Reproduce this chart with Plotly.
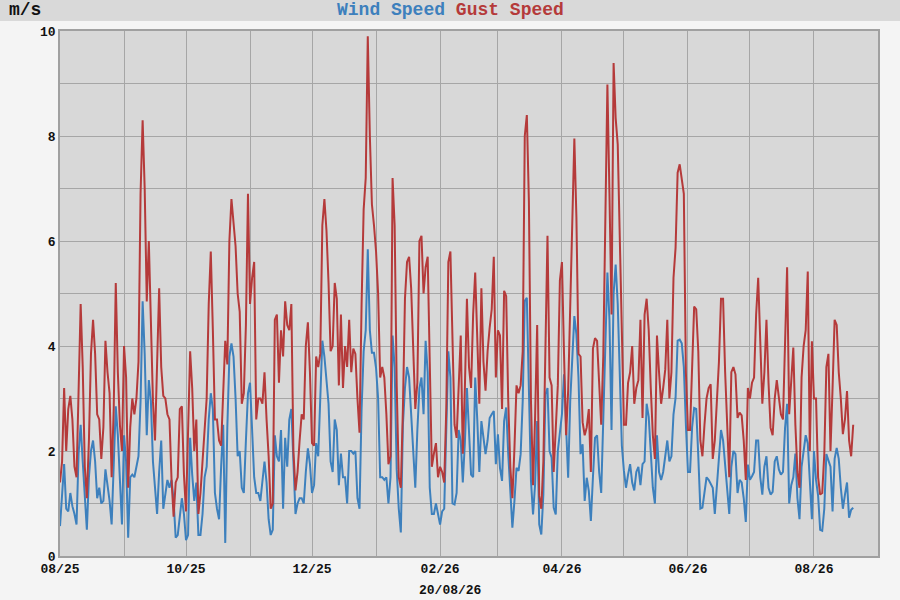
import pandas as pd
import plotly.graph_objects as go

# daily readings starting 2025-08-01, last one 2026-08-20
start_date = "2025-08-01"

wind_speed = [
    # Aug - early Oct 2025
    0.57, 1.2, 1.75, 0.9, 0.85, 1.2, 0.95, 0.8, 0.6, 1.95,
    2.5, 1.8, 1.05, 0.5, 1.5, 2.0, 2.2, 1.8, 1.1, 1.3,
    1.0, 1.05, 1.65, 1.35, 1.05, 0.6, 1.8, 2.85, 2.3, 1.35,
    0.6, 2.3, 1.8, 0.35, 1.5, 1.55, 1.5, 1.7, 1.9, 2.95,
    4.85, 3.85, 2.3, 3.35, 2.95, 1.8, 1.2, 0.8, 1.6, 2.2,
    0.9, 1.2, 1.45, 1.3, 1.45, 1.05, 0.35, 0.4, 0.75, 1.1,
    0.8, 0.3, 0.4, 2.25, 1.55, 1.05,
    # Oct - Dec 2025
    1.4, 0.4, 0.4, 0.8, 1.5, 1.7, 2.6, 3.1, 2.8, 1.2,
    0.9, 0.7, 1.7, 2.5, 0.25, 2.45, 3.8, 4.05, 3.8, 3.0,
    1.9, 2.0, 1.3, 1.2, 2.2, 3.1, 3.3, 2.5, 1.5, 1.2,
    1.2, 1.05, 1.4, 1.8, 1.4, 0.7, 0.4, 0.5, 2.3, 1.9,
    1.8, 2.4, 0.9, 2.25, 1.7, 2.6, 2.8, 1.7, 0.8, 1.0,
    1.1, 1.1, 1.0, 1.6, 2.05, 1.75, 1.2, 1.35, 2.15, 1.9,
    2.95, 4.1, 3.8, 3.4, 2.9, 1.8, 1.6, 2.6, 2.4,
    # Dec 2025 - Feb 2026
    1.35, 1.95, 1.5, 1.5, 1.0, 2.0, 2.0, 1.95, 2.0, 1.1,
    0.9, 2.8, 3.9, 4.3, 5.84, 4.3, 3.87, 3.87, 3.58, 3.0,
    1.5, 1.5, 1.45, 1.5, 1.0, 1.5, 4.2, 3.6, 1.65, 0.9,
    0.45, 2.5, 3.2, 3.6, 3.4, 2.75, 2.0, 1.3, 2.4, 3.2,
    3.4, 2.7, 4.1, 3.5, 1.3, 0.8, 0.8, 1.0, 0.8, 0.6,
    0.85, 0.9, 2.4, 3.9, 3.4, 1.0, 0.98, 1.2, 2.4, 2.2,
    1.4, 2.16, 3.2, 2.3, 1.55, 1.5, 3.4, 2.6, 1.6,
    # Feb - Apr 2026
    2.57, 2.2, 1.94, 2.2, 2.63, 2.7, 2.76, 1.75, 2.32, 1.68,
    1.43, 2.57, 2.83, 1.94, 1.17, 0.54, 1.05, 1.68, 1.62, 1.94,
    2.95, 4.86, 4.92, 2.95, 1.43, 0.79, 1.37, 2.57, 0.6, 0.41,
    1.17, 3.08, 3.2, 2.0, 1.87, 0.92, 0.79, 2.0, 2.32, 2.7,
    3.46, 2.32, 1.49, 2.95, 3.71, 4.57, 4.22, 3.4, 1.94, 2.13,
    1.05, 1.49, 1.24, 0.67, 1.5,
    # Apr - Jun 2026
    2.25, 2.3, 1.6, 1.2, 2.5, 3.8, 5.4, 4.5, 2.4, 5.0,
    5.55, 4.8, 3.6, 2.1, 1.62, 1.3, 1.55, 1.75, 1.4, 1.25,
    1.6, 1.7, 1.35, 1.75, 1.8, 2.9, 2.65, 1.95, 1.3, 1.0,
    2.3, 1.6, 1.45, 1.6, 1.9, 2.2, 1.8, 1.9, 2.7, 3.01,
    4.1, 4.12, 4.05, 3.6, 2.5, 1.6, 1.6, 2.45, 2.82, 2.8,
    1.9, 0.9, 0.92, 1.2, 1.5, 1.45, 1.36, 1.3, 0.8, 1.3,
    1.8, 2.4, 2.2, 1.7, 1.36, 0.8, 1.7, 2.0,
    # Jun - Aug 2026
    1.94, 1.2, 1.45, 1.4, 1.1, 0.65, 1.74, 1.45, 1.52, 1.6,
    2.2, 2.2, 1.5, 1.17, 1.7, 1.9, 1.3, 1.17, 1.22, 1.8,
    1.9, 1.65, 1.55, 1.6, 2.44, 2.9, 1.0, 1.35, 1.5, 1.95,
    1.1, 0.7, 1.7, 2.0, 2.3, 2.15, 1.3, 0.7, 2.0, 1.45,
    1.15, 0.5, 0.48, 0.9, 1.94, 1.8, 1.7, 0.85, 1.85, 2.06,
    1.85, 1.3, 0.9, 1.17, 1.4, 0.73, 0.88, 0.92,
]

gust_speed = [
    # Aug - early Oct 2025
    1.4, 1.8, 3.2, 2.0, 2.8, 3.05, 2.6, 1.7, 1.5, 3.0,
    4.8, 3.6, 1.7, 1.1, 2.2, 3.85, 4.5, 3.85, 2.7, 2.6,
    1.85, 2.45, 4.1, 3.5, 3.1, 1.5, 2.8, 5.2, 3.5, 2.5,
    2.0, 4.0, 3.4, 1.3, 2.45, 3.0, 2.7, 3.0, 3.7, 6.9,
    8.3, 7.0, 4.85, 6.0, 4.35, 2.95, 2.2, 3.6, 5.1, 3.6,
    3.05, 3.0, 2.7, 2.6, 1.45, 0.75, 1.4, 1.5, 2.8, 2.85,
    1.55, 0.85, 2.3, 3.9, 3.2, 2.0,
    # Oct - Dec 2025
    2.6, 0.8, 1.2, 1.8, 2.4, 3.0, 4.8, 5.8, 4.3, 2.6,
    2.6, 2.2, 2.1, 3.3, 4.1, 3.65, 6.0, 6.8, 6.4, 5.9,
    5.0, 4.65, 2.9, 3.1, 4.4, 6.9, 4.8, 5.3, 5.6, 2.6,
    3.0, 3.0, 2.9, 3.5, 2.6, 1.9, 0.9, 1.0, 4.5, 4.6,
    3.3, 4.3, 3.8, 4.85, 4.4, 4.3, 4.8, 2.0, 1.25, 1.6,
    2.2, 2.7, 2.6, 4.0, 4.45, 3.5, 2.15, 2.1, 3.8, 3.6,
    3.85, 6.3, 6.8, 6.2, 5.2, 3.9, 4.0, 5.2, 4.9,
    # Dec 2025 - Feb 2026
    3.25, 4.6, 3.2, 4.0, 3.6, 4.5, 3.5, 3.95, 3.85, 3.0,
    2.35, 4.8, 6.6, 7.2, 9.9, 8.0, 6.7, 6.3, 5.8, 5.0,
    3.4, 3.6, 3.4, 2.7, 1.75, 1.9, 7.2, 6.3, 3.25, 1.5,
    1.3, 2.8, 4.9, 5.6, 5.7, 5.1, 4.0, 2.8, 3.3, 6.0,
    6.1, 5.0, 5.5, 5.7, 3.7, 1.7, 1.95, 2.15, 1.5, 1.7,
    1.6, 1.4, 2.8, 5.6, 5.8, 3.9, 2.5, 2.25, 3.2, 4.2,
    1.95, 3.2, 4.9, 3.6, 3.2, 4.6, 5.4, 4.0, 2.9,
    # Feb - Apr 2026
    5.1, 3.7, 3.15, 3.9, 4.35, 4.7, 5.7, 3.4, 4.3, 4.2,
    2.8, 5.05, 4.95, 2.95, 1.7, 1.1, 2.05, 3.25, 3.1, 3.25,
    3.9, 8.0, 8.4, 6.75, 2.95, 1.35, 2.65, 4.4, 1.15, 0.9,
    1.8, 4.2, 6.1, 3.4, 3.25, 1.6, 2.3, 3.25, 5.25, 5.6,
    3.85, 2.3, 3.15, 4.85, 6.55, 7.95, 6.45, 3.85, 3.8, 2.55,
    2.3, 2.45, 2.8, 1.6, 3.95,
    # Apr - Jun 2026
    4.15, 4.1, 3.2, 2.5, 3.8, 6.8, 8.98, 6.9, 4.6, 9.39,
    8.34, 7.84, 6.0, 3.9, 2.5, 2.5, 3.3, 3.5, 4.0, 2.9,
    3.2, 3.35, 4.5, 2.63, 4.6, 4.9, 4.3, 3.2, 2.3, 1.85,
    4.2, 3.5, 2.9, 3.2, 3.55, 4.5, 3.0, 3.5, 5.3, 5.87,
    7.3, 7.46, 7.2, 6.9, 3.5, 2.4, 2.4, 3.6, 4.75, 4.7,
    3.9, 2.2, 1.9, 2.5, 3.0, 3.2, 3.27, 1.85, 2.2, 2.95,
    3.7, 4.9, 4.9, 3.5, 2.32, 1.5, 3.5, 3.6,
    # Jun - Aug 2026
    3.46, 2.63, 2.73, 2.68, 2.2, 1.45, 3.2, 3.0, 3.3, 3.4,
    4.6, 5.3, 4.09, 2.9, 3.5, 4.5, 3.3, 2.44, 2.3, 3.0,
    3.35, 3.0, 2.7, 2.6, 4.2, 5.5, 2.7, 3.46, 3.97, 2.5,
    1.6, 1.3, 3.4, 4.0, 4.3, 5.42, 2.0, 4.09, 3.0, 3.0,
    1.5, 1.17, 1.2, 1.94, 3.6, 3.85, 2.0, 3.2, 4.5, 4.4,
    3.5, 3.0, 2.32, 2.6, 3.14, 2.2, 1.9, 2.5,
]

x_range = ["2025-08-01", "2026-09-01"]
y_range = [0, 10]
unit_label = "m/s"
date_label = "20/08/26"

WIND_COLOR = "#3d80bd"
GUST_COLOR = "#b53a3a"
FONT = "Liberation Mono, Courier New, monospace"
GRID = "#a6a6a6"

wind_dates = pd.date_range(start_date, periods=len(wind_speed), freq="D")
gust_dates = pd.date_range(start_date, periods=len(gust_speed), freq="D")

fig = go.Figure()
fig.add_trace(go.Scatter(
    x=wind_dates, y=wind_speed, mode="lines", name="Wind Speed",
    line=dict(color=WIND_COLOR, width=2),
))
fig.add_trace(go.Scatter(
    x=gust_dates, y=gust_speed, mode="lines", name="Gust Speed",
    line=dict(color=GUST_COLOR, width=2),
))

# plot area is 818 x 525 px, so convert a few pixel offsets to paper units
pw, ph = 818.0, 525.0

fig.update_layout(
    width=900, height=600,
    margin=dict(l=60, r=22, t=31, b=44),
    paper_bgcolor="#f4f4f4",
    plot_bgcolor="#d8d8d8",
    showlegend=False,
    font=dict(family=FONT, size=13, color="#111111", weight="bold"),
    xaxis=dict(
        range=x_range,
        dtick="M2", tick0="2025-08-01", tickformat="%m/%y",
        showgrid=True, gridcolor=GRID, gridwidth=1,
        minor=dict(dtick="M1", tick0="2025-08-01", showgrid=True, gridcolor=GRID, gridwidth=1),
        showline=True, linecolor="#a0a0a0", linewidth=1.5, mirror=True,
        zeroline=False, ticks="", tickfont=dict(size=13),
    ),
    yaxis=dict(
        range=y_range,
        dtick=2, tick0=0,
        showgrid=True, gridcolor=GRID, gridwidth=1,
        minor=dict(dtick=1, showgrid=True, gridcolor=GRID, gridwidth=1),
        showline=True, linecolor="#a0a0a0", linewidth=1.5, mirror=True,
        zeroline=False, ticks="", tickfont=dict(size=13),
    ),
    shapes=[
        # grey header band
        dict(type="rect", xref="paper", yref="paper", layer="below",
             x0=-60 / pw, x1=1 + 22 / pw, y0=1 + 10 / ph, y1=1 + 31 / ph,
             fillcolor="#d9d9d9", line=dict(width=0)),
    ],
    annotations=[
        dict(xref="paper", yref="paper", x=-35 / pw, y=1 + 21 / ph,
             text=unit_label, showarrow=False, xanchor="center", yanchor="middle",
             font=dict(family=FONT, size=18, color="#111111", weight="bold")),
        dict(xref="paper", yref="paper", x=0.477, y=1 + 21 / ph,
             text=f'<span style="color:{WIND_COLOR}">Wind Speed</span> '
                  f'<span style="color:{GUST_COLOR}">Gust Speed</span>',
             showarrow=False, xanchor="center", yanchor="middle",
             font=dict(family=FONT, size=18, weight="bold")),
        dict(xref="paper", yref="paper", x=0.477, y=-34 / ph,
             text=date_label, showarrow=False, xanchor="center", yanchor="middle",
             font=dict(family=FONT, size=13, color="#111111", weight="bold")),
    ],
)

# the page's default body margin would push the chart 8px off the corner
fig.write_html("out.html", config={"displayModeBar": False},
               post_script="document.body.style.margin = '0';")
